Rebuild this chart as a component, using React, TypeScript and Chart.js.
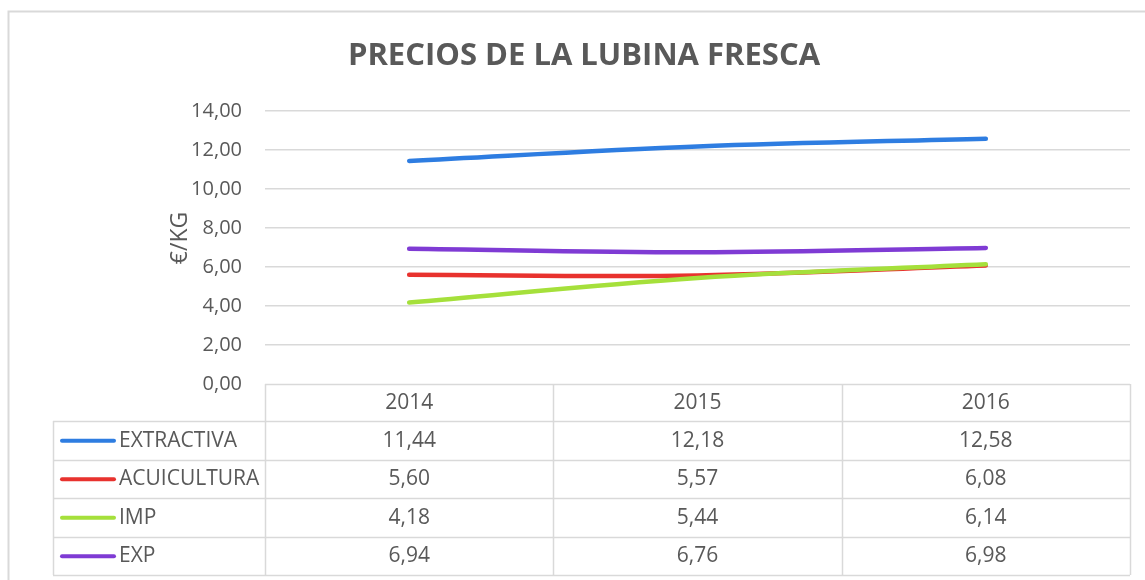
import React, { useEffect, useRef } from "react";
import { Chart, registerables } from "chart.js";

Chart.register(...registerables);

const TITLE = "PRECIOS DE LA LUBINA FRESCA";
const Y_TITLE = "€/KG";
const YEARS = ["2014", "2015", "2016"];
const SERIES_NAMES = ["EXTRACTIVA", "ACUICULTURA", "IMP", "EXP"];
const EXTRACTIVA = [11.44, 12.18, 12.58];
const ACUICULTURA = [5.6, 5.57, 6.08];
const IMP = [4.18, 5.44, 6.14];
const EXP = [6.94, 6.76, 6.98];
const COLORS = ["#2E7DE1", "#E8322E", "#A5E03B", "#7F3BD4"];
const Y_MIN = 0;
const Y_MAX = 14;
const Y_STEP = 2;

const FONT = "'Open Sans', sans-serif";
const TEXT = "#595959";
const GRID = "#d9d9d9";

const fmt = (v: number) => v.toFixed(2).replace(".", ",");

const tablePlugin = {
  id: "tablePlugin",
  beforeDraw(chart: any) {
    const ctx = chart.ctx;
    ctx.save();
    ctx.fillStyle = "#ffffff";
    ctx.fillRect(0, 0, chart.width, chart.height);
    ctx.strokeStyle = GRID;
    ctx.lineWidth = 2;
    ctx.strokeRect(8.5, 11.5, 1300, 800);
    ctx.restore();
  },
  afterDraw(chart: any) {
    const ctx = chart.ctx;
    const area = chart.chartArea;
    const xs = chart.scales.x;
    const series = [EXTRACTIVA, ACUICULTURA, IMP, EXP];
    ctx.save();
    // title
    ctx.fillStyle = TEXT;
    ctx.font = `bold 31px ${FONT}`;
    ctx.textAlign = "center";
    ctx.textBaseline = "middle";
    ctx.fillText(TITLE, 584, 56);

    // y axis title
    ctx.save();
    ctx.translate(180, 238);
    ctx.rotate(-Math.PI / 2);
    ctx.font = `23px ${FONT}`;
    ctx.fillText(Y_TITLE, 0, 0);
    ctx.restore();

    const left = area.left;
    const right = area.right;
    const top = area.bottom;
    const headerH = 37;
    const rowH = 38.5;
    const legendLeft = 53;
    const colW = (right - left) / YEARS.length;
    const bottom = top + headerH + rowH * SERIES_NAMES.length;

    ctx.strokeStyle = GRID;
    ctx.lineWidth = 1.5;
    ctx.beginPath();
    ctx.moveTo(left, top + 0.5);
    ctx.lineTo(right, top + 0.5);
    for (let r = 0; r <= SERIES_NAMES.length; r++) {
      const y = Math.round(top + headerH + r * rowH) + 0.5;
      ctx.moveTo(legendLeft, y);
      ctx.lineTo(right, y);
    }
    for (let c = 0; c <= YEARS.length; c++) {
      const x = Math.round(left + c * colW) + 0.5;
      ctx.moveTo(x, top);
      ctx.lineTo(x, bottom);
    }
    ctx.moveTo(legendLeft + 0.5, top + headerH);
    ctx.lineTo(legendLeft + 0.5, bottom);
    ctx.stroke();

    ctx.fillStyle = TEXT;
    ctx.font = `21px ${FONT}`;
    ctx.textAlign = "center";
    ctx.textBaseline = "middle";
    YEARS.forEach((yr, i) => {
      ctx.fillText(yr, xs.getPixelForValue(i), top + headerH / 2 + 1);
    });
    SERIES_NAMES.forEach((name, r) => {
      const cy = top + headerH + r * rowH + rowH / 2 + 0.5;
      ctx.strokeStyle = COLORS[r];
      ctx.lineWidth = 4;
      ctx.lineCap = "round";
      ctx.beginPath();
      ctx.moveTo(62, cy);
      ctx.lineTo(114, cy);
      ctx.stroke();
      ctx.fillStyle = TEXT;
      ctx.textAlign = "left";
      ctx.fillText(name, 119, cy);
      ctx.textAlign = "center";
      series[r].forEach((v, i) => {
        ctx.fillText(fmt(v), xs.getPixelForValue(i), cy);
      });
    });
    ctx.restore();
  },
};

export default function App() {
  const ref = useRef<HTMLCanvasElement | null>(null);
  useEffect(() => {
    if (!ref.current) return;
    const series = [EXTRACTIVA, ACUICULTURA, IMP, EXP];
    const chart = new Chart(ref.current, {
      type: "line",
      data: {
        labels: YEARS,
        datasets: SERIES_NAMES.map((name, i) => ({
          label: name,
          data: series[i],
          borderColor: COLORS[i],
          backgroundColor: COLORS[i],
          borderWidth: 4.5,
          borderCapStyle: "round" as const,
          pointRadius: 0,
          tension: 0.35,
          order: SERIES_NAMES.length - i,
        })),
      },
      options: {
        animation: false,
        responsive: false,
        layout: { padding: { left: 165, right: 15, top: 111, bottom: 196 } },
        plugins: {
          legend: { display: false },
          title: { display: false },
          tooltip: { enabled: false },
        },
        scales: {
          x: {
            display: false,
            offset: true,
          },
          y: {
            min: Y_MIN,
            max: Y_MAX,
            ticks: {
              stepSize: Y_STEP,
              padding: 23,
              color: TEXT,
              font: { family: FONT, size: 20 },
              callback: (v: any) => fmt(Number(v)),
            },
            grid: {
              color: (c: any) => (c.tick && c.tick.value === 0 ? "rgba(0,0,0,0)" : GRID),
              lineWidth: 1.5,
              drawTicks: false,
            },
            border: { display: false },
            title: { display: false },
            afterFit: (s: any) => {
              s.width = 100;
            },
          },
        },
      },
      plugins: [tablePlugin],
    });
    return () => chart.destroy();
  }, []);
  return (
    <div style={{ position: "absolute", left: 0, top: 0, width: 1145, height: 580, background: "#fff" }}>
      <canvas ref={ref} width={1145} height={580} style={{ display: "block", width: 1145, height: 580 }} />
    </div>
  );
}
